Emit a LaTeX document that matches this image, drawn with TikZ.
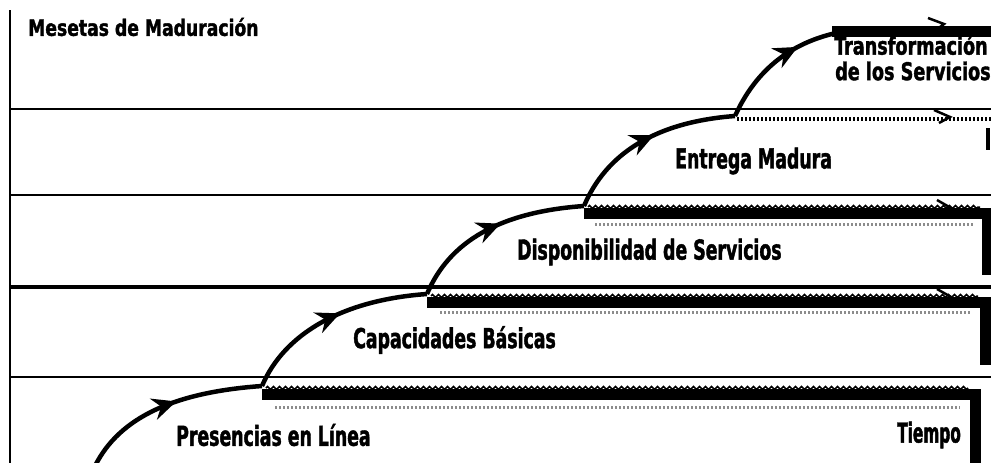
\documentclass[tikz,border=0pt]{standalone}
\usepackage{fontspec}
\newfontfamily\tfont{DejaVu Sans Condensed}[FakeStretch=0.85, BoldFeatures={FakeBold=1.5}]
\newfontfamily\sfontx{DejaVu Sans Condensed}[FakeStretch=0.80, BoldFeatures={FakeBold=1.5}]
\newfontfamily\lfont{DejaVu Sans Condensed}[FakeStretch=0.70, BoldFeatures={FakeBold=1.5}]
\newfontfamily\nfont{DejaVu Sans Condensed}[FakeStretch=0.62, BoldFeatures={FakeBold=1.5}]
\usetikzlibrary{arrows.meta,decorations.markings,decorations.pathmorphing}
\begin{document}
\begin{tikzpicture}[x=1pt,y=-1pt,
  axisline/.style={line width=2.5pt},
  stepcurve/.style={line width=4.5pt, postaction={decorate},
    decoration={markings, mark=at position #1 with {\arrow{Stealth[length=24pt,width=22pt,inset=8pt]}}}},
  stepcurve/.default=0.55,
  band/.style={line width=11pt},
  saw/.style={line width=1.5pt, decorate, decoration={zigzag, segment length=6pt, amplitude=1.5pt}},
  fringe/.style={line width=3pt, black!45, dash pattern=on 1.5pt off 2.5pt},
  chev/.style={line width=2.5pt, line join=miter},
  txt/.style={inner sep=0pt, anchor=west},
  ttl/.style={txt, font=\tfont\bfseries\fontsize{22.5}{22.5}\selectfont},
  top/.style={txt, font=\sfontx\bfseries\fontsize{24.5}{24.5}\selectfont},
  lbl/.style={txt, font=\lfont\bfseries\fontsize{27.5}{27.5}\selectfont},
  tim/.style={txt, font=\nfont\bfseries\fontsize{27.5}{27.5}\selectfont}]
\useasboundingbox (0,0) rectangle (991,463);
% axis and row lines
\coordinate (ax0) at (10,10);
\coordinate (ax1) at (10,463);
\draw[axisline] (ax0) -- (ax1);
\foreach \yy/\w in {109/2.5, 195/2.0, 287/3.2, 377/2.2}
  \draw[line width=\w pt] (10,\yy) -- (991,\yy);
% knees
\coordinate (k0) at (95,466);
\coordinate (k1) at (262,386);
\coordinate (k2) at (427,294);
\coordinate (k3) at (584,206);
\coordinate (k4) at (735,116);
\coordinate (k5) at (836,33);
% bands
\draw[fringe] (275,407) -- (960,407);
\draw[band] (262,394) -- (975,394) -- (975,463);
\draw[saw] (266,388) -- (968,388);
\draw[fringe] (440,312) -- (970,312);
\draw[band] (427,302) -- (985,302) -- (985,365);
\draw[saw] (431,296) -- (978,296);
\draw[fringe] (595,224) -- (975,224);
\draw[band] (584,213) -- (987,213) -- (987,275);
\draw[saw] (588,207) -- (980,207);
\draw[line width=3.5pt, dash pattern=on 2pt off 2pt] (737,119) -- (991,119);
\draw[line width=3.5pt] (988,128) -- (988,150);
\draw[band] (832,31) -- (991,31);
% chevrons
\draw[chev] (937,289) -- (951,297) -- (941,304);
\draw[chev] (937,200) -- (951,208) -- (941,214);
\draw[chev] (934,110) -- (950,117) -- (939,123);
\draw[chev] (928,18) -- (944,24) -- (936,30);
% curves
\draw[stepcurve] (k0) .. controls +(25,-50) and +(-85,6) .. (k1);
\draw[stepcurve] (k1) .. controls +(22,-52) and +(-85,6) .. (k2);
\draw[stepcurve] (k2) .. controls +(22,-52) and +(-85,6) .. (k3);
\draw[stepcurve] (k3) .. controls +(22,-52) and +(-80,6) .. (k4);
\draw[stepcurve=0.7] (k4) .. controls +(25,-55) and +(-35,8) .. (k5);
% labels
\node[ttl] (title) at (28,27) {Mesetas de Maduración};
\node[top] (t5a) at (834,45) {Transformación};
\node[top] (t5b) at (835,71) {de los Servicios};
\node[lbl] (t4) at (675,161) {Entrega Madura};
\node[lbl] (t3) at (517,252) {Disponibilidad de Servicios};
\node[lbl] (t2) at (353,340) {Capacidades Básicas};
\node[lbl] (t1) at (176,435) {Presencias en Línea};
\node[tim] (t0) at (897,435) {Tiempo};
\end{tikzpicture}
\end{document}
